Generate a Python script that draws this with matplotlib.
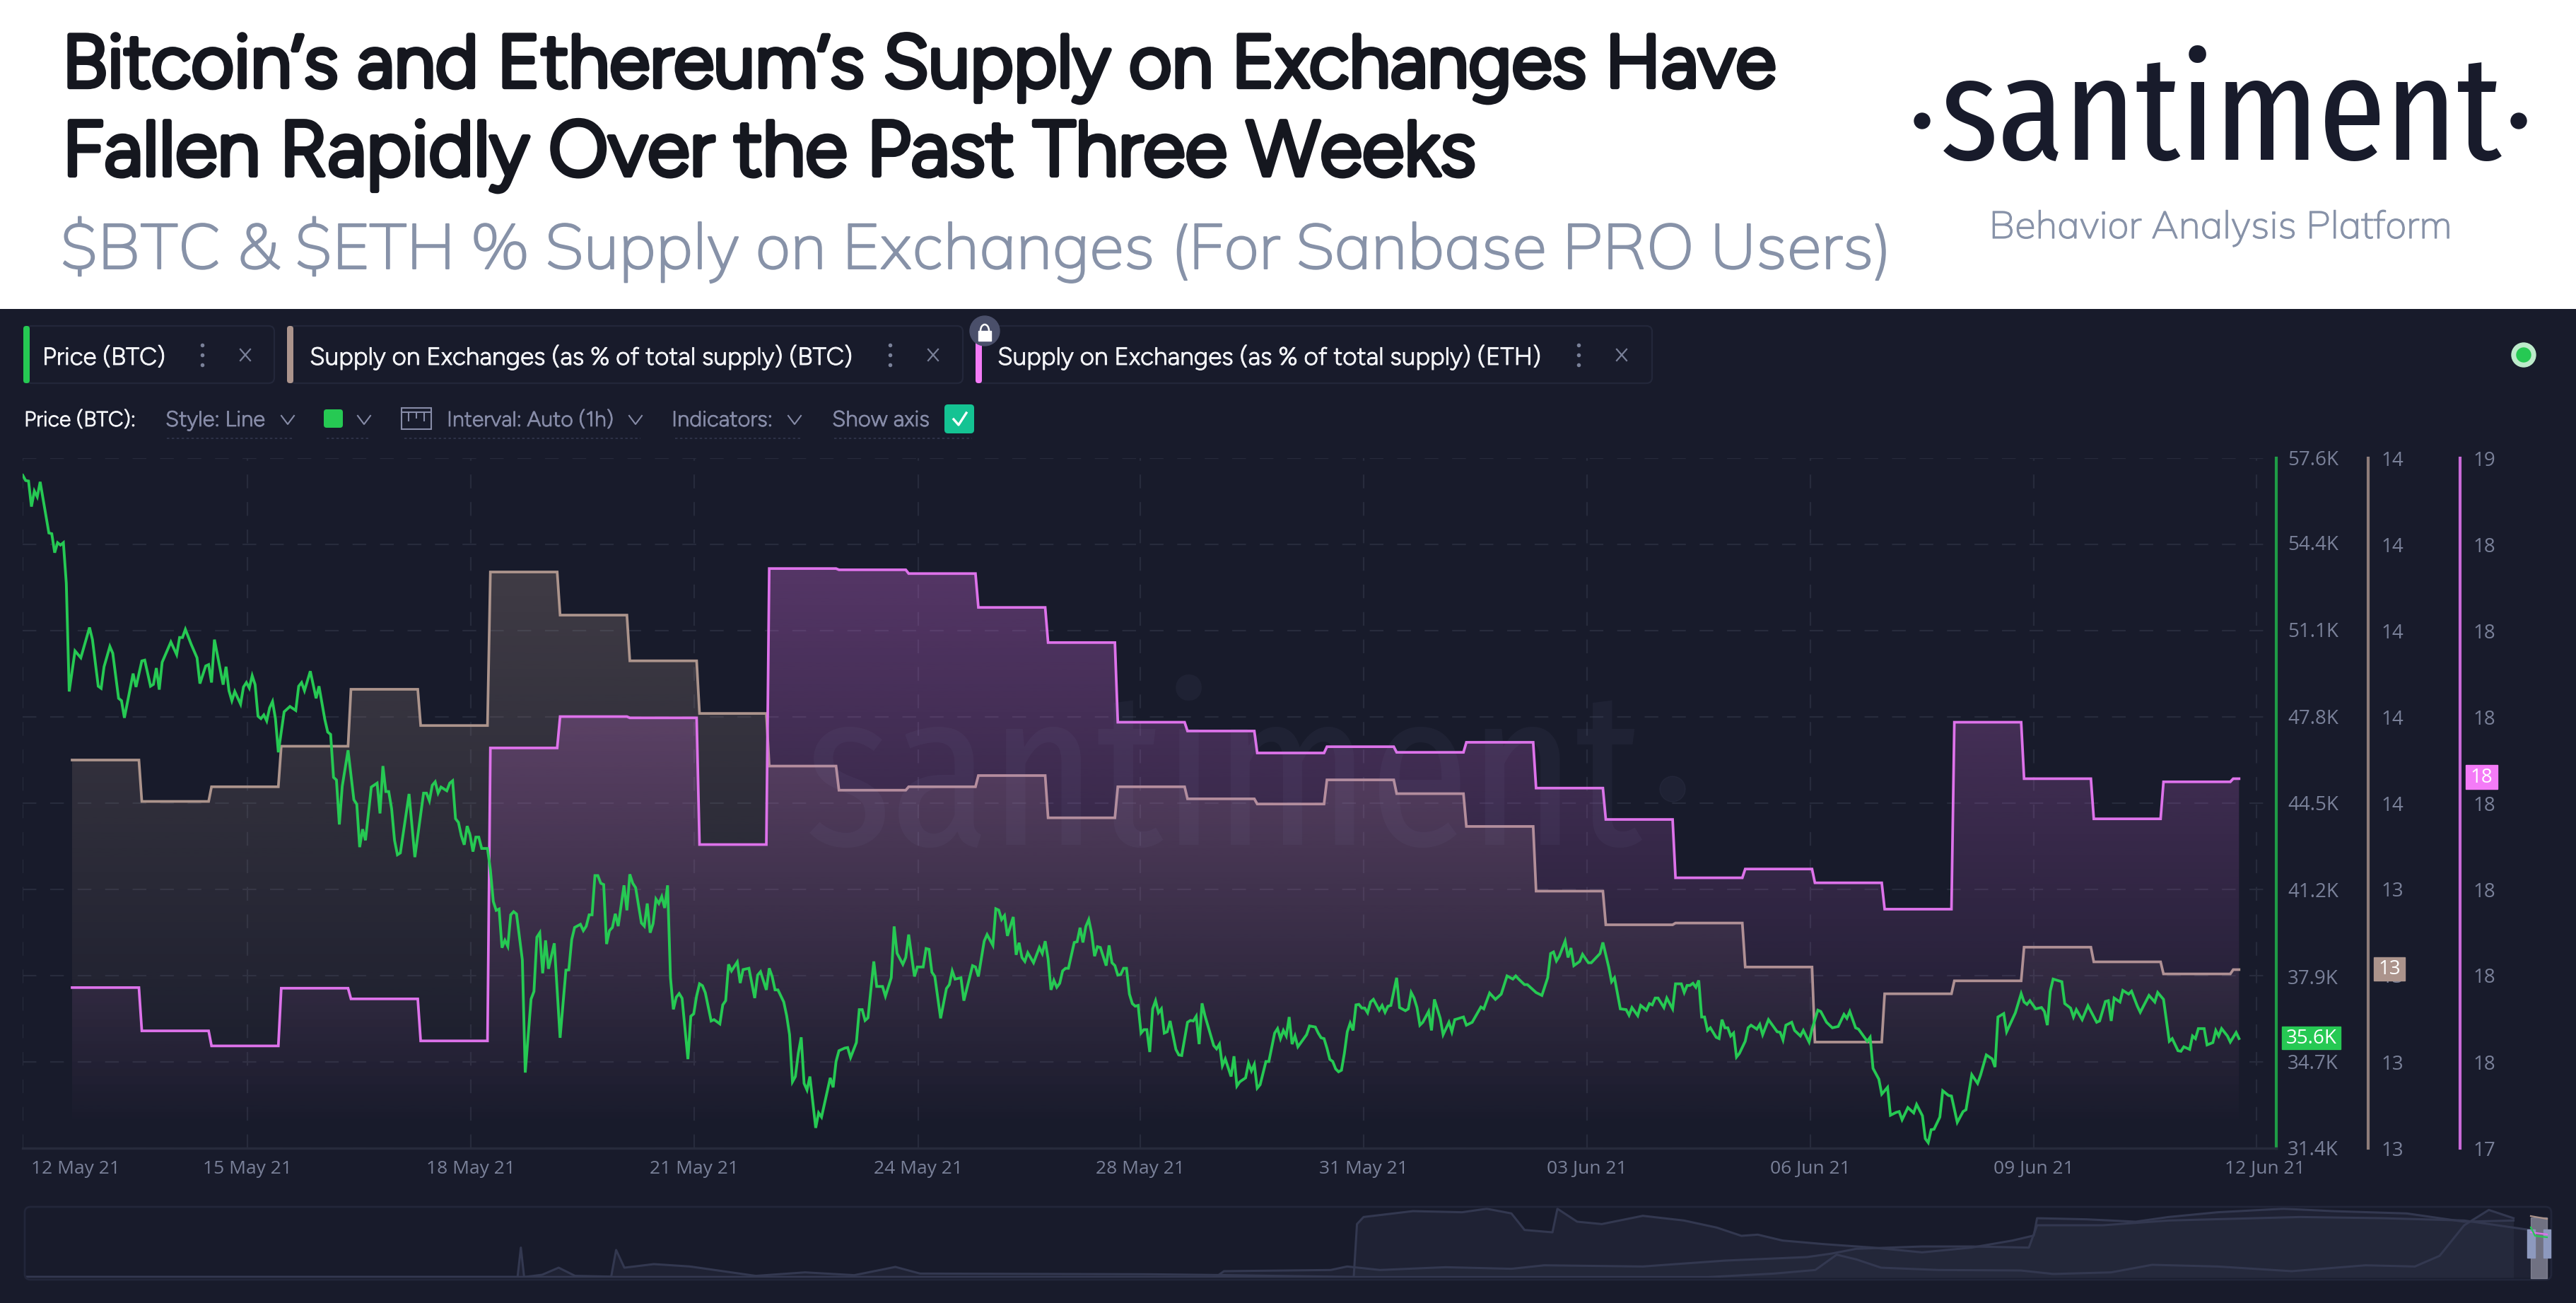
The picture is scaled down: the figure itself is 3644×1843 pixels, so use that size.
import logging
import numpy as np
import matplotlib
matplotlib.use("Agg")
import matplotlib.pyplot as plt
import matplotlib.patheffects as pe
from matplotlib.patches import Rectangle, FancyBboxPatch, Circle, Arc

logging.getLogger('matplotlib.font_manager').setLevel(logging.ERROR)
plt.rcParams['lines.scale_dashes'] = False

# ---------- data ----------
# hourly BTC price in $K: (hour after the first supply sample, price)
price_points = [
(-17,56.95),(-16,56.75),(-15,56.73),(-14,55.76),(-13,56.35),(-12,56.13),(-11,56.70),(-8,54.76),(-7,54.73),(-6,54.01),(-5,54.39),(-4,54.30),(-3,54.39),(-2,52.85),(-1,48.74),
(1,50.28),(3,50.02),(6,51.17),(7,50.71),(9,48.94),(10,48.86),(11,49.68),(13,50.45),(14,50.19),(16,48.48),(17,48.39),(18,47.74),(21,49.42),(22,48.91),(24,49.90),(25,49.93),(27,48.94),(28,49.01),(29,49.63),(30,48.81),(31,49.85),(34,50.62),(36,50.14),(37,50.79),(38,50.79),(39,51.10),(41,50.53),(43,50.02),(44,49.04),(46,49.71),(47,49.76),(48,49.08),(49,50.71),
(52,49.00),(53,49.68),(54,48.77),(55,48.39),(56,48.74),(58,48.26),(59,48.91),(60,49.08),(61,48.87),(62,49.34),(63,49.00),(64,47.80),(65,47.71),(66,47.85),(67,47.62),(68,48.12),(69,48.36),(70,47.71),(71,46.43),(73,47.97),(75,48.17),(77,48.02),(78,48.94),(79,49.08),(80,48.77),(82,49.51),(84,48.48),(85,48.94),(87,47.68),(88,47.20),(89,47.11),(90,45.48),(91,45.38),(92,43.69),(93,45.14),(95,46.51),(97,44.63),(98,44.46),(99,42.83),
(100,43.51),(101,43.09),(103,45.11),(105,45.26),(106,44.11),(107,45.91),(108,44.94),(109,44.94),(110,44.29),(111,43.09),(112,42.54),(113,42.61),(116,44.85),(118,42.45),(121,44.88),(122,44.88),(123,44.59),(124,45.18),(125,45.31),(126,44.88),(127,45.11),(129,44.97),(130,45.26),(131,45.35),(132,43.91),(133,43.77),(134,43.26),(135,42.92),(136,43.63),(137,43.29),(138,42.66),(139,43.21),(140,43.21),(141,42.78),(143,42.78),(144,41.97),(145,40.77),(146,40.43),(147,40.48),(148,39.01),(149,39.29),
(150,39.06),(151,40.26),(152,40.38),(153,40.29),(155,38.55),(156,34.27),(158,37.06),(159,37.35),(160,39.41),(161,39.58),(162,38.04),(163,39.29),(164,38.21),(166,39.18),(168,35.59),(170,38.16),(171,38.17),(172,39.32),(173,39.78),(175,39.90),(176,39.66),(177,39.83),(178,40.26),(179,40.26),(180,41.75),(181,41.75),(182,41.46),(183,41.41),(184,39.15),(185,39.66),(186,39.78),(187,40.30),(188,39.83),(190,41.38),(191,40.43),(192,41.80),(193,41.46),(194,41.29),(196,39.95),(197,39.83),(198,40.69),(199,39.58),
(200,39.92),(201,40.86),(202,40.69),(203,40.95),(204,40.52),(205,41.38),(206,37.87),(207,36.67),(208,37.13),(209,37.27),(210,37.09),(212,34.78),(213,36.41),(214,36.50),(215,37.18),(216,37.64),(217,37.57),(218,37.30),(220,36.23),(221,36.28),(223,36.12),(224,36.84),(225,37.00),(226,38.38),(227,38.13),(229,38.47),(230,37.67),(231,38.18),(233,38.23),(235,37.10),(236,37.97),(237,38.10),(239,37.41),(240,38.23),(241,37.92),(242,37.41),(243,37.41),(245,36.95),(246,36.43),(247,35.71),(248,33.92),(249,34.12),
(250,35.00),(251,35.61),(252,33.86),(253,33.61),(254,34.12),(255,33.15),(256,32.17),(257,32.74),(258,32.58),(261,34.07),(262,33.71),(263,34.69),(264,35.10),(266,35.20),(267,35.22),(268,34.84),(270,35.41),(271,36.66),(272,36.66),(273,36.25),(274,36.35),(276,38.49),(277,37.54),(279,37.54),(280,37.17),(282,37.87),(283,39.82),(284,38.80),(286,38.38),(287,38.64),(288,39.51),(290,37.92),(291,38.28),(293,38.28),(294,38.98),(295,38.95),(296,38.08),(297,37.92),(299,36.33),
(301,37.46),(302,37.61),(303,38.13),(304,37.82),(306,37.87),(307,37.00),(310,38.33),(311,38.28),(312,37.92),(314,39.26),(315,39.51),(317,39.10),(318,40.49),(319,40.44),(320,40.08),(321,40.23),(322,39.46),(324,40.18),(325,38.74),(326,39.20),(327,38.64),(328,38.49),(329,38.82),(331,38.44),(333,39.02),(334,38.79),(335,39.26),(336,38.59),(337,37.41),(338,37.77),(339,37.51),(340,37.66),(341,38.13),(342,38.23),(343,38.23),(345,39.21),(346,39.24),(347,39.77),(348,39.21),(349,39.82),
(350,40.08),(351,39.56),(352,38.69),(353,39.05),(354,39.02),(356,38.33),(357,39.10),(358,38.44),(359,38.33),(360,37.97),(361,37.99),(362,38.23),(363,38.23),(364,37.25),(365,36.89),(366,36.79),(367,36.82),(368,35.77),(369,35.90),(370,35.90),(371,35.05),(372,36.69),(373,37.00),(374,36.54),(375,36.69),(376,35.77),(377,35.82),(378,36.23),(380,35.15),(381,34.94),(382,34.92),(384,36.18),(385,36.25),(386,36.23),(387,36.41),(388,35.35),(389,36.90),(390,36.43),(393,35.30),(394,35.17),(395,35.35),(396,34.53),(397,34.79),(399,34.12),
(400,34.89),(401,33.76),(402,33.92),(404,34.07),(405,34.63),(406,34.33),(407,34.58),(408,33.68),(409,33.81),(411,34.69),(412,34.69),(414,35.77),(415,35.94),(416,35.56),(417,35.87),(418,35.66),(419,36.38),(420,35.35),(421,35.66),(422,35.25),(425,35.71),(426,36.04),(428,36.00),(429,35.77),(430,35.59),(431,35.56),(432,35.20),(433,34.77),(434,34.69),(435,34.41),(436,34.30),(437,34.36),(438,35.00),(439,35.82),(440,36.15),(441,35.87),(442,36.84),(443,36.86),(444,36.72),(445,36.72),(446,36.54),(447,36.95),(448,37.05),
(450,36.64),(451,36.82),(452,36.56),(453,36.79),(454,36.82),(456,37.87),(457,36.74),(459,36.62),(460,36.69),(461,37.31),(462,37.10),(463,36.74),(464,36.07),(465,36.18),(467,36.59),(468,35.87),(469,37.05),(471,36.33),(472,35.71),(474,36.18),(475,35.82),(476,36.28),(479,36.38),(480,36.07),(482,36.18),(485,36.76),(486,36.69),(488,37.29),(490,37.05),(492,37.25),(494,37.94),(496,37.82),(497,37.94),(498,37.82),
(500,37.61),(501,37.61),(503,37.41),(504,37.31),(506,37.20),(508,37.87),(509,38.79),(510,38.85),(511,38.51),(512,38.69),(514,39.26),(515,38.64),(516,39.00),(517,38.33),(519,38.49),(520,38.76),(522,38.44),(523,38.44),(526,38.79),(527,39.21),(529,38.28),(530,37.72),(531,37.87),(533,36.69),(535,36.66),(536,36.45),(537,36.74),(539,36.43),(540,36.82),(542,36.64),(543,36.89),(544,36.84),(545,37.10),(546,37.10),(548,36.74),(549,37.10),
(551,36.69),(552,37.64),(554,37.64),(555,37.31),(556,37.58),(557,37.58),(558,37.66),(559,37.51),(560,37.77),(561,36.38),(562,36.38),(563,35.87),(564,35.97),(566,35.61),(567,35.56),(568,36.28),(569,35.97),(570,35.97),(571,35.66),(572,35.77),(573,34.86),(574,35.00),(576,35.46),(577,35.97),(578,36.07),(580,35.92),(581,36.10),(582,35.71),(584,36.28),(587,35.82),(588,35.80),(589,35.51),(590,36.07),(592,36.18),(593,35.87),(595,35.66),(596,35.87),(598,35.43),(599,35.92),
(601,36.64),(602,36.59),(604,36.18),(606,35.97),(608,36.02),(610,36.48),(611,36.33),(612,36.59),(614,35.97),(615,35.92),(618,35.46),(619,35.61),(620,34.43),(622,34.02),(623,33.45),(625,33.71),(626,32.65),(628,32.76),(629,32.79),(630,32.48),(632,32.94),(634,32.74),(635,33.06),(637,32.63),(638,31.76),(639,31.61),(640,32.10),(641,32.12),(643,32.58),(644,33.58),(646,33.40),(647,33.38),(649,32.38),
(651,32.79),(652,32.86),(654,34.19),(656,33.86),(657,34.17),(659,34.94),(661,34.79),(662,34.48),(663,36.38),(665,36.51),(666,35.82),(669,36.54),(671,37.27),(672,36.95),(673,36.86),(674,37.00),(676,36.69),(678,36.74),(679,36.59),(680,36.07),(681,37.36),(682,37.82),(685,37.72),(686,36.89),(688,36.72),(689,36.38),(690,36.66),(692,36.28),(694,36.81),(697,36.18),(698,36.23),
(700,36.97),(701,37.00),(702,36.23),(703,37.10),(705,36.95),(706,37.39),(708,37.25),(709,37.36),(711,36.79),(712,36.56),(715,37.20),(717,36.95),(718,37.31),(720,37.05),(722,35.46),(723,35.56),(725,35.10),(726,35.08),(727,35.25),(729,35.15),(730,35.66),(731,35.56),(732,35.94),(734,35.94),(735,35.32),(737,35.41),(738,35.87),(739,35.66),(740,35.94),(742,35.66),(743,35.43),(745,35.79),(746,35.56)]

# daily supply on exchanges, % of total supply
btc_supply = [13.570,13.522,13.539,13.586,13.652,13.610,13.788,13.738,13.685,13.624,13.563,13.535,13.539,13.552,13.503,13.539,
              13.525,13.519,13.547,13.531,13.493,13.418,13.379,13.381,13.330,13.243,13.299,13.314,13.353,13.336,13.322,13.327]
eth_supply = [17.706,17.637,17.613,17.705,17.688,17.621,18.088,18.138,18.136,17.934,18.374,18.372,18.366,18.312,18.256,18.129,
              18.115,18.080,18.090,18.081,18.097,18.024,17.974,17.881,17.895,17.873,17.831,18.129,18.039,17.975,18.034,18.039]

price_ticks = [57.6,54.4,51.1,47.8,44.5,41.2,37.9,34.7,31.4]
date_labels = ['12 May 21','15 May 21','18 May 21','21 May 21','24 May 21','28 May 21','31 May 21','03 Jun 21','06 Jun 21','09 Jun 21','12 Jun 21']
date_hours = [1.2,60.4,137.3,214.2,291.3,367.7,444.6,521.5,598.4,675.3,755]
grid_hours = [-17,60.4,137.3,214.2,291.3,367.7,444.6,521.5,598.4,675.3,752]

# overview strip, % of the strip height
nav_btc = [(15,.7),(740,.7),(745,9.1),(810,10.8),(820,15.8),(840,10.8),(880,14.8),(920,12.5),(940,17.5),(1000,15.8),(1020,19.2),(1050,24.2),(1100,29.3),(1115,34.3),(1130,41.1),(1170,44.4),(1200,44.4),(1235,42.8),(1240,74.7),(1280,74.7),(1320,81.5),(1400,86.5),(1450,84.8),(1500,81.5),(1540,68)]
nav_eth = [(15,.7),(824,.7),(826,76.4),(830,86.5),(860,94.9),(890,93.3),(905,98.3),(920,91.6),(928,68),(945,64.6),(948,98.3),(960,79.8),(975,76.4),(1000,88.2),(1025,81.5),(1045,71.4),(1060,59.6),(1070,61.3),(1085,52.9),(1110,47.8),(1140,42.8),(1170,36),(1200,42.8),(1225,52.9),(1238,60),(1240,84.8),(1270,83.2),(1300,79.8),(1320,86.5),(1350,93.3),(1390,98.3),(1420,94.9),(1465,91.6),(1500,79.8),(1530,81.5)]
nav_price = [(15,.7),(315,.7),(317,42.8),(319,.7),(330,4),(340,14.1),(350,2.4),(372,1.3),(375,39.4),(380,14.1),(398,19.2),(420,15.8),(460,2.4),(490,7.4),(520,3.4),(545,15.2),(560,5.7),(700,4.7),(750,3.4),(825,.7),(1040,.7),(1080,5.7),(1105,10.8),(1118,32.7),(1130,25.9),(1145,14.1),(1180,10.8),(1230,10.1),(1250,5.1),(1285,7.4),(1310,18.2),(1350,15.8),(1395,9.1),(1440,17.5),(1470,15.8),(1485,31),(1500,74.7),(1515,96.6),(1530,84.8)]

# ---------- style ----------
W, H = 3644, 1843
BG = '#181B2B'; GREEN = '#26C953'; TAN = '#AC948C'; PINK = '#DD72EA'
MUTED = '#7A8199'; GRID = '#272B3C'; CHIP = '#23273A'
PX = 0.72
HEAD = ['Figtree', 'Lato', 'DejaVu Sans']
BODY = ['Mulish', 'Lato', 'DejaVu Sans']
UI = ['Figtree', 'Lato', 'DejaVu Sans']
LOGO = ['Fira Sans Extra Condensed', 'Asap Condensed', 'Open Sans', 'DejaVu Sans']

fig = plt.figure(figsize=(W/100, H/100), dpi=100, facecolor='white')
fig.patches.append(Rectangle((0, 0), 1, 1-437/H, transform=fig.transFigure, facecolor=BG, edgecolor='none', zorder=-5))

L, R, T, B = 32, 3220, 648, 1624
rect = [L/W, 1-B/H, (R-L)/W, (B-T)/H]
ax = fig.add_axes(rect)
ax_btc = ax.twinx()
ax_eth = ax.twinx()
ax_btc.set_zorder(1); ax_eth.set_zorder(2); ax.set_zorder(3)
for a in (ax, ax_btc, ax_eth):
    a.patch.set_visible(False)
    for s in ('top', 'left', 'bottom', 'right'):
        a.spines[s].set_visible(False)

to_h = lambda x: (x-102)/4.109
xlim = (to_h(L), to_h(R))

# price
price_h = [p[0] for p in price_points]
price_v = [p[1] for p in price_points]
ax.plot(price_h, price_v, color=GREEN, lw=2.8, solid_joinstyle='miter', zorder=5)
ax.set_ylim(31.4, 57.6)
ax.set_yticks(price_ticks, [f'{v:.1f}K' for v in price_ticks])
ax.yaxis.tick_right()
ax.set_xlim(*xlim)
ax.set_xticks(date_hours, date_labels)

hours = np.arange(0, 747)

def supply(a, daily, color, lim, peak_alpha, bottom_frac):
    vals = np.array(daily)[hours // 24]
    a.set_ylim(*lim)
    ticks = np.linspace(lim[0], lim[1], 9)
    a.set_yticks(ticks, [f'{round(t)}' for t in ticks])
    a.yaxis.tick_right()
    n = 400
    ys = np.linspace(lim[0], lim[1], n)
    low = lim[0] + bottom_frac*(lim[1]-lim[0])
    t = np.clip((ys-low)/(vals.max()-low), 0, 1)
    rgba = np.zeros((n, 2, 4))
    rgba[..., :3] = matplotlib.colors.to_rgb(color)
    rgba[..., 3] = (peak_alpha*t)[:, None]
    im = a.imshow(rgba, extent=[0, hours[-1], lim[0], lim[1]], origin='lower', aspect='auto', zorder=1)
    poly = a.fill_between(hours, lim[0], vals, color='none', zorder=0)
    im.set_clip_path(poly.get_paths()[0], a.transData)
    a.plot(hours, vals, color=color, lw=2.7, solid_joinstyle='miter', zorder=3)
    a.set_xlim(*xlim); a.set_ylim(*lim)

supply(ax_btc, btc_supply, TAN, (13.12, 13.92), 0.27, 0.02)
supply(ax_eth, eth_supply, PINK, (17.45, 18.55), 0.31, 0.02)

# grid
DASH = (0, (14, 14))
ax_btc.set_axisbelow(True)
ax_btc.yaxis.grid(True, color=GRID, lw=1.6, linestyle=DASH)
ax_btc.vlines(grid_hours, 13.12, 13.92, color=GRID, lw=1.6, linestyles=[DASH], zorder=0.4)

# axes lines and tick labels
ax.spines['bottom'].set_visible(True)
ax.spines['bottom'].set_color('#272B3C'); ax.spines['bottom'].set_linewidth(2.4)
ax.tick_params(axis='x', length=0, pad=12, labelsize=19, labelcolor=MUTED)
for a, col, off, pad in ((ax, '#1F9C46', 0, 16), (ax_btc, '#8F7D7A', 130, 18), (ax_eth, '#C96AD8', 260, 18)):
    sp = a.spines['right']
    sp.set_visible(True); sp.set_color(col); sp.set_linewidth(3)
    sp.set_position(('outward', off*PX))
    a.tick_params(axis='y', length=0, pad=pad*PX, labelsize=20, labelcolor=MUTED)
for a in (ax, ax_btc, ax_eth):
    for t in a.get_xticklabels() + a.get_yticklabels():
        t.set_family(['Open Sans', 'DejaVu Sans'])

# overlay in pixel units for the page furniture
ov = fig.add_axes([0, 0, 1, 1], zorder=10)
ov.set_xlim(0, W); ov.set_ylim(H, 0); ov.axis('off'); ov.patch.set_visible(False)
rend = fig.canvas.get_renderer()

def fit(x, y, s, width, bold=0, **kw):
    t = ov.text(x, y, s, fontsize=100, va='baseline', ha='left', parse_math=False, **kw)
    t.set_fontsize(100*width/t.get_window_extent(rend).width)
    if bold:
        t.set_path_effects([pe.withStroke(linewidth=bold, foreground=t.get_color())])
    return t

fit(88, 123, 'Bitcoin\u2019s and Ethereum\u2019s Supply on Exchanges Have', 2424, bold=4.6, family=HEAD, color='#15171F')
fit(88, 248, 'Fallen Rapidly Over the Past Three Weeks', 2000, bold=4.6, family=HEAD, color='#15171F')
fit(85, 380, '$BTC & $ETH % Supply on Exchanges (For Sanbase PRO Users)', 2592, bold=1.4, family=BODY, color='#8792A8')
fit(2745, 226, 'santiment', 795, family=LOGO, color='#181B2B')
ov.add_patch(Circle((2719, 171), 11, color='#181B2B'))
ov.add_patch(Circle((3563, 171), 11, color='#181B2B'))
fit(2814, 337, 'Behavior Analysis Platform', 655, bold=0.8, family=BODY, color='#8792A8')

# watermark
fit(1139, 1195, 'santiment', 1185, family=LOGO, color='#9AA0D0', alpha=0.055)
ov.add_patch(Circle((2366, 1116), 18, color='#9AA0D0', alpha=0.055))

# metric chips
chips = [(37, 388, GREEN, 'Price (BTC)', 60, 174, 286, 347),
         (410, 1362, TAN, 'Supply on Exchanges (as % of total supply) (BTC)', 438, 768, 1259, 1320),
         (1384, 2337, '#F47BF7', 'Supply on Exchanges (as % of total supply) (ETH)', 1411, 769, 2233, 2294)]
for x0, x1, col, label, tx, tw, kx, cx in chips:
    ov.add_patch(FancyBboxPatch((x0, 461), x1-x0, 81, boxstyle='round,pad=0,rounding_size=8', fc='none', ec=CHIP, lw=1.6))
    ov.add_patch(FancyBboxPatch((x0-4, 461), 9, 81, boxstyle='round,pad=0,rounding_size=4', fc=col, ec='none'))
    fit(tx, 516, label, tw, bold=0.6, family=UI, color='#F4F5F8')
    ov.scatter([kx]*3, [488, 502, 516], s=16, color=MUTED, linewidths=0)
    ov.plot([cx-7, cx+7], [494, 510], color=MUTED, lw=1.6)
    ov.plot([cx-7, cx+7], [510, 494], color=MUTED, lw=1.6)

# lock badge
ov.add_patch(Circle((1393, 468), 21, color='#4A4F6A'))
ov.add_patch(Rectangle((1384, 468), 18, 14, color='white'))
ov.add_patch(Arc((1393, 468), 12, 18, theta1=180, theta2=360, color='white', lw=1.8))

# status dot
ov.add_patch(Circle((3570, 502), 17, color='#BDEBCB'))
ov.add_patch(Circle((3570, 502), 10, color=GREEN))

# second row
MUT2 = '#878CA8'
row = [('Style: Line', 234, 141), ('Interval: Auto (1h)', 632, 236), ('Indicators:', 950, 143), ('Show axis', 1177, 138)]
fit(34, 603, 'Price (BTC):', 158, bold=0.6, family=UI, color='#F4F5F8')
for s, x, w in row:
    fit(x, 603, s, w, bold=0.5, family=UI, color=MUT2)
for cx in (407, 515, 899, 1124):
    ov.plot([cx-9, cx, cx+9], [588, 600, 588], color=MUT2, lw=1.5)
for a0, a1 in ((236, 415), (462, 523), (572, 906), (955, 1132), (1180, 1375)):
    ov.plot([a0, a1], [620, 620], color='#2E3248', lw=1.4, linestyle=(0, (2.5, 2.5)))
ov.add_patch(FancyBboxPatch((458, 579), 27, 26, boxstyle='round,pad=0,rounding_size=4', fc=GREEN, ec='none'))
ov.add_patch(Rectangle((568, 577), 42, 30, fc='none', ec=MUT2, lw=1.5))
ov.plot([568, 610], [583, 583], color=MUT2, lw=1.5)
ov.vlines([578, 589, 600], 583, [596, 592, 596], color=MUT2, lw=1.5)
ov.add_patch(FancyBboxPatch((1336, 572), 42, 41, boxstyle='round,pad=0,rounding_size=5', fc='#14C393', ec='none'))
ov.plot([1349, 1356, 1367], [593, 601, 584], color='white', lw=2.4)

# current value tags
tags = [(3228, 1452, 83, 32, GREEN, '35.6K'), (3358, 1354, 44, 33, TAN, '13'), (3488, 1082, 45, 34, '#F47BF7', '18')]
for x, y, w, h, col, s in tags:
    ov.add_patch(Rectangle((x, y), w, h, color=col))
    ov.text(x+w/2, y+h/2+1, s, ha='center', va='center', fontsize=20, color='white', family=['Open Sans', 'DejaVu Sans'])

# overview strip
nx0, nx1, ny0, ny1 = 35, 3609, 1708, 1807
nav = fig.add_axes([nx0/W, 1-ny1/H, (nx1-nx0)/W, (ny1-ny0)/H], zorder=4)
nav.patch.set_visible(False); nav.axis('off')
nav.set_xlim(15, 1553); nav.set_ylim(0, 100)
for series in (nav_btc, nav_eth, nav_price):
    xs = [p[0] for p in series]; ys = [p[1] for p in series]
    nav.fill_between(xs, 0, ys, color='#2A2E42', alpha=0.42, lw=0)
    nav.plot(xs, ys, color='#333850', lw=2.2)
ov.add_patch(FancyBboxPatch((nx0, 1707), nx1-nx0, 103, boxstyle='round,pad=0,rounding_size=8', fc='none', ec='#22263A', lw=2))
ov.add_patch(Rectangle((3580, 1722), 23, 86, color='#8F8FA0', alpha=0.75))
ov.plot([3580, 3603], [1720, 1724], color=TAN, lw=1.6)
ov.plot([3580, 3603], [1743, 1746], color=PINK, lw=1.6)
ov.plot([3580, 3586, 3603], [1736, 1748, 1750], color=GREEN, lw=1.6)
ov.add_patch(Rectangle((3575, 1739), 11, 40, color='#8D99BE'))
ov.add_patch(Rectangle((3598, 1739), 10, 40, color='#8D99BE'))

fig.savefig('out.png', dpi=100, facecolor='white')
